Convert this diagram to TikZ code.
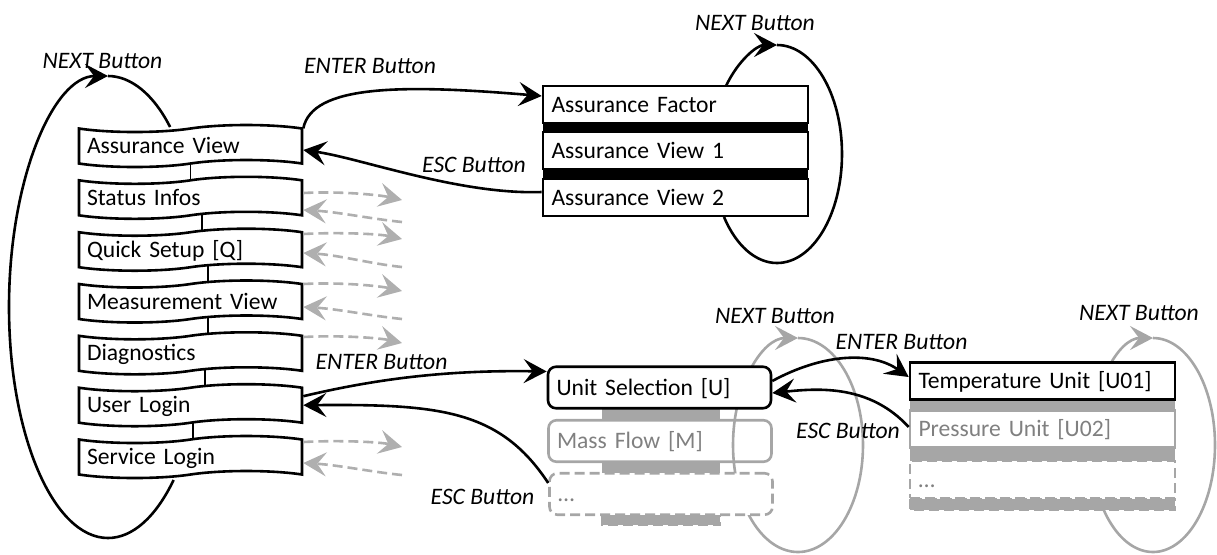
\documentclass[tikz,border=0pt]{standalone}
\usepackage{fontspec}
\setmainfont{Carlito}
\usetikzlibrary{arrows.meta,shapes.symbols,backgrounds}
\definecolor{lgray}{RGB}{166,166,166}
\definecolor{tgray}{RGB}{128,128,128}
\definecolor{agray}{RGB}{175,175,175}
\begin{document}
\begin{tikzpicture}[x=0.5pt,y=-0.5pt,
  every node/.style={font=\fontsize{11.8pt}{14pt}\selectfont},
  lw/.style={line width=1.3pt},
  arr/.style={-{Stealth[length=11.5pt,width=12pt,inset=4.5pt]}},
  boxbase/.style={draw, line width=1.3pt, fill=white, align=left, inner ysep=0pt, text height=7.5pt, text depth=0pt},
  tapebox/.style={boxbase, tape, tape bend height=3.5pt, minimum width=111.5pt, minimum height=21pt, text width=103.5pt, inner xsep=4pt},
  sqbox/.style={boxbase, rectangle, minimum width=132.5pt, minimum height=18.5pt, text width=124pt, inner xsep=4.25pt},
  rbox/.style={boxbase, rectangle, rounded corners=4pt, minimum width=111.5pt, minimum height=20.75pt, text width=103pt, inner xsep=4.25pt},
  graybox/.style={draw=lgray, text=tgray},
  gdash/.style={dash pattern=on 5pt off 2.5pt},
  btn/.style={font=\fontsize{11.8pt}{14pt}\selectfont\itshape, inner sep=0pt, text height=7.5pt, text depth=0pt},
  gline/.style={draw=lgray, line width=1.3pt},
  garr/.style={draw=agray, line width=1.3pt, gdash, arr}
]
\useasboundingbox (0,0) rectangle (1217,554);

% ---------- loops ----------
% left NEXT loop
\coordinate (L1s) at (173.6,480);
\coordinate (L1t) at (108,76);
\coordinate (L1e) at (170.1,127);
\draw[lw,arr] (L1s) .. controls (155.6,517.5) and (132.2,538) .. (108,538)
  .. controls (53.3,538) and (9,434.6) .. (9,307)
  .. controls (9,179.4) and (53.3,76) .. (L1t);
\draw[lw] (L1t) .. controls (130.6,76) and (153.4,94) .. (L1e);

% top right NEXT loop
\coordinate (L2s) at (726,86);
\coordinate (L2t) at (777,45);
\coordinate (L2e) at (724,217);
\draw[lw,arr] (L2s) .. controls (738.3,60.1) and (757.2,45) .. (L2t);
\draw[lw] (L2t) .. controls (812.9,45) and (842,93.8) .. (842,154)
  .. controls (842,214.2) and (812.9,263) .. (777,263)
  .. controls (755.9,263) and (736.2,245.8) .. (L2e);

% unit selection NEXT loop (gray)
\coordinate (L3l) at (733,445);
\coordinate (L3t) at (798,338);
\draw[gline,arr] (L3l) .. controls (733,385.9) and (762.1,338) .. (L3t);
\draw[gline] (L3t) .. controls (833.9,338) and (863,385.9) .. (863,445)
  .. controls (863,504.1) and (833.9,552) .. (798,552)
  .. controls (762.1,552) and (733,504.1) .. (L3l);

% temperature NEXT loop (gray)
\coordinate (L4l) at (1091,445);
\coordinate (L4t) at (1153,338);
\draw[gline,arr] (L4l) .. controls (1091,385.9) and (1118.8,338) .. (L4t);
\draw[gline] (L4t) .. controls (1187.2,338) and (1215,385.9) .. (1215,445)
  .. controls (1215,504.1) and (1187.2,552) .. (1153,552)
  .. controls (1118.8,552) and (1091,504.1) .. (L4l);

% ---------- bars ----------
\fill (543,123) rectangle (808,132);
\fill (543,169) rectangle (808,179);
\fill[lgray] (602,408) rectangle (720,420);
\fill[lgray] (602,462) rectangle (720,473);
\draw[lgray, gdash, line width=1.3pt, fill=lgray] (602,516) rectangle (720,525);
\fill[lgray] (910,399.5) rectangle (1175,410.5);
\fill[lgray] (910,447.5) rectangle (1175,461);
\draw[lgray, gdash, line width=1.3pt, fill=lgray] (910,499) rectangle (1175,510);

% ---------- nodes ----------
\node[tapebox] (av) at (190.5,146) {Assurance View};
\node[tapebox] (si) at (190.5,197.8) {Status Infos};
\node[tapebox] (qs) at (190.5,249.7) {Quick Setup [Q]};
\node[tapebox] (mv) at (190.5,301.5) {Measurement View};
\node[tapebox] (dg) at (190.5,353.3) {Diagnostics};
\node[tapebox] (ul) at (190.5,405.2) {User Login};
\node[tapebox] (sl) at (190.5,457) {Service Login};
\begin{scope}[on background layer]
\foreach \a/\b/\s in {av/si/0pt,si/qs/5.75pt,qs/mv/8.75pt,mv/dg/8.75pt,dg/ul/7.25pt,ul/sl/1.25pt}
  \draw[line width=0.8pt] ([xshift=\s]\a.center) -- ([xshift=\s]\b.center);
\end{scope}

\node[sqbox] (af) at (675.5,104.5) {Assurance Factor};
\node[sqbox] (av1) at (675.5,150.5) {Assurance View 1};
\node[sqbox] (av2) at (675.5,197.5) {Assurance View 2};

\node[rbox] (us) at (659.5,387.5) {Unit Selection [U]};
\node[rbox, graybox, fill=none] (mf) at (660,441) {Mass Flow [M]};
\node[rbox, graybox, gdash] (dd) at (661,494) {…};

\node[sqbox] (tu) at (1042.5,381) {Temperature Unit [U01]};
\node[sqbox, graybox] (pu) at (1042.5,429) {Pressure Unit [U02]};
\node[sqbox, graybox, gdash] (td) at (1042.5,479.5) {…};

% ---------- connectors ----------
\draw[lw,arr] (av.north east) .. controls (312,85) and (400,84) .. ([yshift=4.25pt]af.west);
\draw[lw,arr] ([yshift=2.75pt]av2.west) .. controls (460,195) and (360,158) .. ([yshift=-2pt]av.east);
\draw[lw,arr] ([yshift=4.5pt]ul.east) .. controls (380,378) and (450,370) .. ([yshift=-3pt]us.north west);
\draw[lw,arr] ([yshift=-5.5pt]dd.north west) .. controls (500,410) and (440,404) .. (ul.east);
\draw[lw,arr] ([yshift=3.25pt]us.east) .. controls (820,355) and (870,350) .. ([yshift=2pt]tu.west);
\draw[lw,arr] ([yshift=1pt]pu.west) .. controls (870,385) and (820,388) .. ([yshift=-2.75pt]us.east);

% gray dashed stubs
\foreach \n/\so/\eo in {si/2.4pt/200, qs/7.85pt/239, mv/8.75pt/291, dg/8.15pt/343, sl/7.5pt/447}{
  \coordinate (\n-out) at (402,\eo);
  \draw[garr] ([yshift=\so]\n.east) .. controls +(38,-2) and +(-22,-5) .. (\n-out);
}
\foreach \n/\rs/\rt in {si/222/-6.1pt, qs/267/-1.65pt, mv/319/-2.75pt, sl/475/-3pt}{
  \coordinate (\n-in) at (402,\rs);
  \draw[garr] (\n-in) .. controls +(-30,-3) and +(35,2) .. ([yshift=\rt]\n.east);
}

% ---------- labels ----------
\node[btn] (nb1) at (102.5,61) {NEXT Button};
\node[btn] (eb1) at (370,66) {ENTER Button};
\node[btn] (es1) at (474,165) {ESC Button};
\node[btn] (nb2) at (755,22.5) {NEXT Button};
\node[btn] (nb3) at (775,315.5) {NEXT Button};
\node[btn] (eb2) at (381.5,361.5) {ENTER Button};
\node[btn] (es2) at (482.5,496.5) {ESC Button};
\node[btn] (eb3) at (901.5,341.5) {ENTER Button};
\node[btn] (es3) at (848,431) {ESC Button};
\node[btn] (nb4) at (1139,313) {NEXT Button};
\end{tikzpicture}
\end{document}
